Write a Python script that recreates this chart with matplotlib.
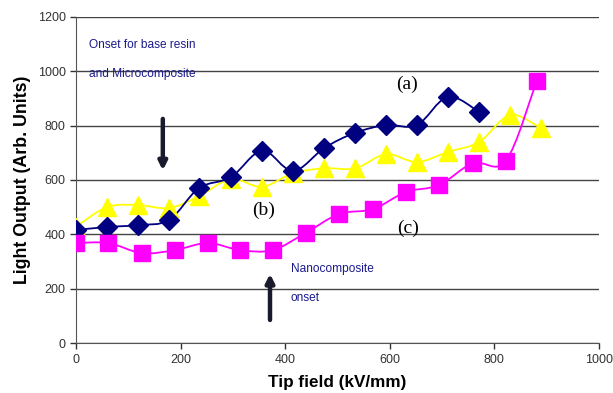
import matplotlib.pyplot as plt
import numpy as np
from matplotlib.path import Path
from matplotlib.patches import PathPatch

plt.rcParams['font.family'] = ['Liberation Sans', 'DejaVu Sans']

# Tip field (kV/mm) and light output for the three materials
field_a = [0, 59, 118, 178, 235, 296, 356, 415, 475, 533, 593, 652, 711, 771]
light_a = [416, 427, 434, 453, 570, 610, 708, 633, 718, 773, 802, 802, 906, 850]

field_b = [0, 59, 118, 178, 235, 296, 356, 415, 475, 534, 593, 652, 711, 771, 830, 889]
light_b = [428, 500, 508, 497, 540, 603, 575, 625, 643, 643, 695, 666, 703, 740, 839, 791]

field_c = [0, 62, 126, 189, 252, 314, 376, 440, 503, 568, 631, 694, 759, 822, 881]
light_c = [368, 368, 331, 342, 368, 342, 342, 406, 475, 493, 556, 581, 662, 670, 964]

x_ticks = [0, 200, 400, 600, 800, 1000]
y_ticks = [0, 200, 400, 600, 800, 1000, 1200]


def smooth_path(xs, ys):
    # cubic Bezier segments through the points (Catmull-Rom style control points)
    pts = np.column_stack([xs, ys]).astype(float)
    verts = [pts[0]]
    codes = [Path.MOVETO]
    n = len(pts)
    for i in range(n - 1):
        p0 = pts[max(i - 1, 0)]
        p1 = pts[i]
        p2 = pts[i + 1]
        p3 = pts[min(i + 2, n - 1)]
        c1 = p1 + (p2 - p0) / 6.0
        c2 = p2 - (p3 - p1) / 6.0
        verts += [c1, c2, p2]
        codes += [Path.CURVE4] * 3
    return Path(verts, codes)


fig = plt.figure(figsize=(6.13, 3.93), dpi=100)
ax = fig.add_axes([0.124, 0.127, 0.853, 0.83])

series = [
    (field_b, light_b, '#FFFF00', '^', 13),
    (field_a, light_a, '#000080', 'D', 10),
    (field_c, light_c, '#FF00FF', 's', 11),
]
for xs, ys, color, marker, ms in series:
    ax.add_patch(PathPatch(smooth_path(xs, ys), facecolor='none',
                           edgecolor=color, lw=1.3, zorder=3))
    ax.plot(xs, ys, linestyle='none', marker=marker, markersize=ms,
            color=color, markeredgecolor=color, zorder=4)

ax.set_xlim(0, 1000)
ax.set_ylim(0, 1200)
ax.set_xticks(x_ticks)
ax.set_yticks(y_ticks)
ax.tick_params(labelsize=9, colors='#333333', length=4, width=1)
ax.yaxis.grid(True, color='#444444', lw=1)
ax.set_axisbelow(True)
for side in ['top', 'right']:
    ax.spines[side].set_visible(False)
for side in ['left', 'bottom']:
    ax.spines[side].set_color('#555555')

ax.set_xlabel('Tip field (kV/mm)', fontsize=12.3, fontweight='bold', labelpad=7)
ax.set_ylabel('Light Output (Arb. Units)', fontsize=12.8, fontweight='bold', labelpad=5)

# onset annotations
ax.text(25, 1085, 'Onset for base resin', color='#1a1a8c', fontsize=8.6)
ax.text(25, 980, 'and Microcomposite', color='#1a1a8c', fontsize=8.6)
ax.annotate('', xy=(166, 625), xytext=(166, 835),
            arrowprops=dict(arrowstyle='-|>', color='#1a1a2e', lw=3.2,
                            mutation_scale=12))

ax.text(411, 260, 'Nanocomposite', color='#1a1a8c', fontsize=8.6)
ax.text(411, 155, 'onset', color='#1a1a8c', fontsize=8.6)
ax.annotate('', xy=(371, 265), xytext=(371, 75),
            arrowprops=dict(arrowstyle='-|>', color='#1a1a2e', lw=3.2,
                            mutation_scale=12))

for label, x, y in [('(a)', 633, 953), ('(b)', 359, 490), ('(c)', 635, 423)]:
    ax.text(x, y, label, fontsize=14, family='Liberation Serif',
            ha='center', va='center', zorder=5)

fig.savefig('out.png', dpi=100)
